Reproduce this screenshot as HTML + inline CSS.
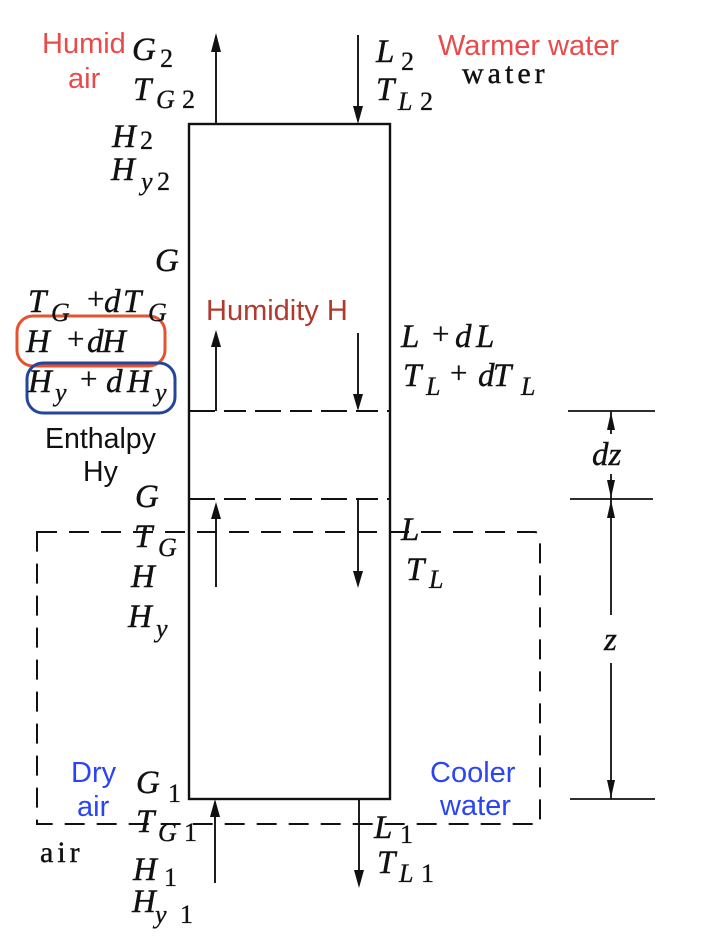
<!DOCTYPE html>
<html><head><meta charset="utf-8"><style>
html,body{margin:0;padding:0;background:#fff;}
svg{display:block;}
.m{font-family:"Liberation Serif",serif;font-style:italic;font-size:33px;fill:#111;stroke:#111;stroke-width:0.4}
.s{font-family:"Liberation Serif",serif;font-style:italic;font-size:26px;fill:#111;stroke:#111;stroke-width:0.3}
.n{font-family:"Liberation Serif",serif;font-size:26px;fill:#111;stroke:#111;stroke-width:0.3}
.pl{font-family:"Liberation Serif",serif;font-size:31px;fill:#111;stroke:#111;stroke-width:0.3}
.p{font-family:"Liberation Serif",serif;font-size:30px;fill:#111;letter-spacing:4px;stroke:#111;stroke-width:0.4}
.a{font-family:"Liberation Sans",sans-serif;font-size:29px}
</style></head><body>
<svg width="702" height="944" viewBox="0 0 702 944" xmlns="http://www.w3.org/2000/svg">
<!-- main column -->
<rect x="189" y="124" width="201" height="675" fill="none" stroke="#111" stroke-width="2.4"/>
<!-- dashed internal lines -->
<g stroke="#111" stroke-width="2" fill="none">
<line x1="189" y1="411" x2="390" y2="411" stroke-dasharray="26 9 22 9"/>
<line x1="189" y1="499" x2="390" y2="499" stroke-dasharray="26 9 22 9"/>
<!-- control volume -->
<path d="M37 532 L534 532 Q540 532 540 538 L540 824 L37 824 Z" stroke-dasharray="20 12"/>
</g>
<!-- dimension lines -->
<g stroke="#111" stroke-width="1.8" fill="none">
<line x1="568" y1="411" x2="655" y2="411"/>
<line x1="570" y1="499" x2="653" y2="499"/>
<line x1="570" y1="799" x2="655" y2="799"/>
<line x1="611" y1="411" x2="611" y2="434"/>
<line x1="611" y1="474" x2="611" y2="499"/>
<line x1="611" y1="499" x2="611" y2="615"/>
<line x1="611" y1="663" x2="611" y2="799"/>
</g>
<!-- flow arrows -->
<g stroke="#111" stroke-width="1.9" fill="none">
<line x1="216" y1="36" x2="216" y2="124"/>
<line x1="358" y1="35" x2="358" y2="120"/>
<line x1="216" y1="333" x2="216" y2="411"/>
<line x1="358" y1="333" x2="358" y2="408"/>
<line x1="216" y1="505" x2="216" y2="587"/>
<line x1="358" y1="499" x2="358" y2="584"/>
<line x1="215" y1="802" x2="215" y2="883"/>
<line x1="359" y1="799" x2="359" y2="884"/>
</g>
<g fill="#111">
<polygon points="216,33 211,52 221,52"/>
<polygon points="358,124 353,106 363,106"/>
<polygon points="216,330 211,347 221,347"/>
<polygon points="358,411 353,394 363,394"/>
<polygon points="216,502 211,519 221,519"/>
<polygon points="358,588 353,571 363,571"/>
<polygon points="215,799 210,817 220,817"/>
<polygon points="359,888 354,870 364,870"/>
<!-- dimension arrowheads -->
<polygon points="611,412 607,430 615,430"/>
<polygon points="611,498 607,480 615,480"/>
<polygon points="611,500 607,518 615,518"/>
<polygon points="611,798 607,780 615,780"/>
</g>
<!-- highlight boxes -->
<rect x="17" y="316" width="148" height="50" rx="16" fill="none" stroke="#e5532e" stroke-width="3"/>
<rect x="27" y="363" width="148" height="50" rx="16" fill="none" stroke="#24469a" stroke-width="3"/>

<!-- coloured annotations -->
<text class="a" x="42" y="53" fill="#ea4a4a">Humid</text>
<text class="a" x="68" y="88" fill="#ea4a4a">air</text>
<text class="a" x="438" y="55" fill="#ea4a4a">Warmer water</text>
<text class="p" x="462" y="83">water</text>
<text class="a" x="206" y="320" fill="#b03a2c">Humidity H</text>
<text class="a" x="45" y="448" fill="#111" style="font-size:28.5px">Enthalpy</text>
<text class="a" x="83" y="481" fill="#111" style="font-size:28.5px">Hy</text>
<text class="a" x="71" y="782" fill="#2a45f2">Dry</text>
<text class="a" x="77" y="816" fill="#2a45f2">air</text>
<text class="a" x="430" y="782" fill="#2a45f2">Cooler</text>
<text class="a" x="440" y="815" fill="#2a45f2">water</text>
<text class="p" x="40" y="862">air</text>

<!-- top left -->
<text class="m" x="132" y="60">G</text><text class="n" x="160" y="67">2</text>
<text class="m" x="133" y="100">T</text><text class="s" x="156" y="108">G</text><text class="n" x="182" y="108">2</text>
<text class="m" x="112" y="147">H</text><text class="n" x="140" y="149">2</text>
<text class="m" x="111" y="180">H</text><text class="s" x="141" y="190">y</text><text class="n" x="157" y="190">2</text>
<!-- top right -->
<text class="m" x="376" y="62">L</text><text class="n" x="401" y="70">2</text>
<text class="m" x="376" y="100">T</text><text class="s" x="398" y="110">L</text><text class="n" x="420" y="110">2</text>

<!-- middle left -->
<text class="m" x="155" y="271">G</text>
<text class="m" x="28" y="312">T</text><text class="s" x="51" y="321">G</text>
<text class="pl" x="87" y="309">+</text>
<text class="m" x="104" y="312">d</text><text class="m" x="123" y="312">T</text><text class="s" x="148" y="321">G</text>
<text class="m" x="26" y="352">H</text><text class="pl" x="67" y="349">+</text><text class="m" x="87" y="352">d</text><text class="m" x="102" y="352">H</text>
<text class="m" x="28" y="392">H</text><text class="s" x="55" y="401">y</text><text class="pl" x="80" y="389">+</text><text class="m" x="106" y="392">d</text><text class="m" x="127" y="392">H</text><text class="s" x="155" y="401">y</text>

<text class="m" x="135" y="507">G</text>
<text class="m" x="134" y="547">T</text><text class="s" x="158" y="556">G</text>
<text class="m" x="131" y="587">H</text>
<text class="m" x="128" y="627">H</text><text class="s" x="156" y="637">y</text>

<!-- middle right -->
<text class="m" x="401" y="347">L</text><text class="pl" x="432" y="344">+</text><text class="m" x="455" y="347">d</text><text class="m" x="476" y="347">L</text>
<text class="m" x="403" y="386">T</text><text class="s" x="426" y="395">L</text><text class="pl" x="450" y="383">+</text><text class="m" x="478" y="386">d</text><text class="m" x="493" y="386">T</text><text class="s" x="521" y="395">L</text>
<text class="m" x="592" y="465">dz</text>
<text class="m" x="401" y="540">L</text>
<text class="m" x="406" y="580">T</text><text class="s" x="429" y="588">L</text>
<text class="m" x="604" y="650">z</text>

<!-- bottom -->
<text class="m" x="136" y="793">G</text><text class="n" x="168" y="802">1</text>
<text class="m" x="136" y="832">T</text><text class="s" x="158" y="841">G</text><text class="n" x="184" y="841">1</text>
<text class="m" x="133" y="880">H</text><text class="n" x="164" y="886">1</text>
<text class="m" x="132" y="912">H</text><text class="s" x="155" y="923">y</text><text class="n" x="180" y="923">1</text>
<text class="m" x="374" y="838">L</text><text class="n" x="400" y="843">1</text>
<text class="m" x="377" y="873">T</text><text class="s" x="399" y="882">L</text><text class="n" x="421" y="882">1</text>
</svg>
</body></html>
